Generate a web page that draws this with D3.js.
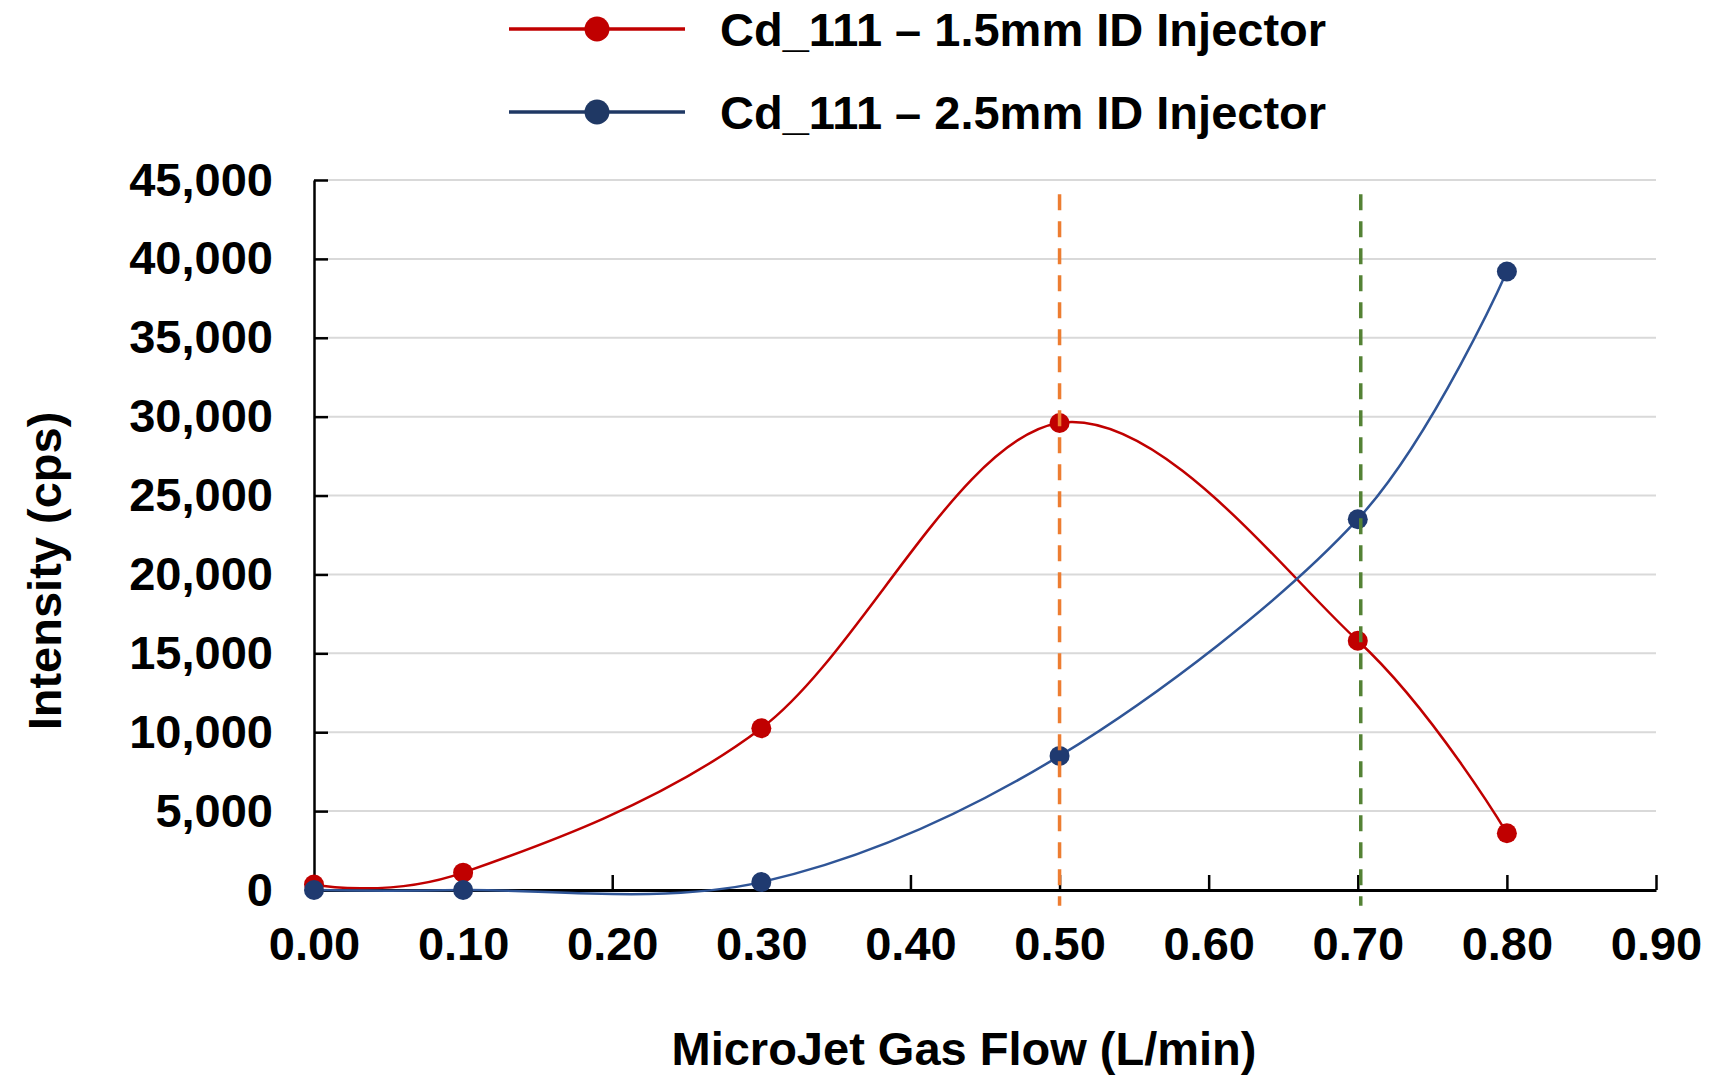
<!DOCTYPE html>
<html>
<head>
<meta charset="utf-8">
<script src="https://cdn.jsdelivr.net/npm/d3@7"></script>
<style>
  body { margin: 0; background: #fff; }
  text { font-family: "Liberation Sans", Arial, sans-serif; font-weight: bold; }
</style>
</head>
<body>
<div id="root"></div>
<script>
// data
const flows = [0.00, 0.10, 0.30, 0.50, 0.70, 0.80];
const cd15 = [350, 1100, 10250, 29600, 15800, 3600];
const cd25 = [0, 0, 500, 8500, 23500, 39200];
const seriesNames = ["Cd_111 \u2013 1.5mm ID Injector", "Cd_111 \u2013 2.5mm ID Injector"];
const xTicks = [0, 0.1, 0.2, 0.3, 0.4, 0.5, 0.6, 0.7, 0.8, 0.9];
const yTicks = [0, 5000, 10000, 15000, 20000, 25000, 30000, 35000, 40000, 45000];
const refFlows = [0.50, 0.702];
const refSpan = [-1000, 44100];
const xTitle = "MicroJet Gas Flow (L/min)";
const yTitle = "Intensity (cps)";

const w = 1711;
const h = 1076;
const margin = { top: 180, bottom: 186, left: 314, right: 55 };

const lineColors = ["#c00000", "#2f5597"];
const markerColors = ["#c00000", "#1f3a70"];
const legendLineColors = ["#c00000", "#1f3864"];
const refColors = ["#ed7d31", "#548235"];
const fontSize = 47;

const xScale = d3.scaleLinear()
    .domain([0, 0.9])
    .range([margin.left, w - margin.right]);

const yScale = d3.scaleLinear()
    .domain([0, 45000])
    .range([h - margin.bottom, margin.top]);

const svg = d3.select("#root")
    .append("svg")
    .attr("width", w)
    .attr("height", h)
    .style("background", "#fff");

// gridlines
svg.append("g")
    .selectAll("line")
    .data(yTicks.filter(d => d > 0))
    .enter()
    .append("line")
    .attr("x1", xScale(0))
    .attr("x2", xScale(0.9))
    .attr("y1", d => yScale(d))
    .attr("y2", d => yScale(d))
    .attr("stroke", "#d9d9d9")
    .attr("stroke-width", 2);

// y-axis, ticks pointing into the plot
const yAxis = d3.axisLeft(yScale)
    .tickValues(yTicks)
    .tickFormat(d3.format(","))
    .tickSizeInner(-14)
    .tickSizeOuter(0)
    .tickPadding(41);
const gy = svg.append("g")
    .attr("transform", "translate(" + margin.left + ",0)")
    .call(yAxis);
gy.select(".domain").attr("stroke", "#000").attr("stroke-width", 2.5);
gy.selectAll(".tick line").attr("stroke", "#000").attr("stroke-width", 2.5);
gy.selectAll(".tick text")
    .attr("fill", "#000")
    .style("font-size", fontSize + "px")
    .style("font-family", "'Liberation Sans', Arial, sans-serif")
    .style("font-weight", "bold");

// x-axis
const xAxis = d3.axisBottom(xScale)
    .tickValues(xTicks)
    .tickFormat(d3.format(".2f"))
    .tickSizeInner(-15)
    .tickSizeOuter(0)
    .tickPadding(37);
const gx = svg.append("g")
    .attr("transform", "translate(0," + yScale(0) + ")")
    .call(xAxis);
gx.select(".domain").attr("stroke", "#000").attr("stroke-width", 3);
gx.selectAll(".tick line").attr("stroke", "#000").attr("stroke-width", 2.5);
gx.selectAll(".tick text")
    .attr("fill", "#000")
    .style("font-size", fontSize + "px")
    .style("font-family", "'Liberation Sans', Arial, sans-serif")
    .style("font-weight", "bold");

// axis titles
svg.append("text")
    .attr("x", 964)
    .attr("y", 1065)
    .attr("text-anchor", "middle")
    .style("font-size", fontSize + "px")
    .text(xTitle);

svg.append("text")
    .attr("transform", "translate(61," + 571 + ") rotate(-90)")
    .attr("text-anchor", "middle")
    .style("font-size", fontSize + "px")
    .text(yTitle);

// series (Excel-like smoothed lines)
const series = [cd15, cd25];
const line = d3.line()
    .x((d, i) => xScale(flows[i]))
    .y(d => yScale(d))
    .curve(d3.curveCardinal.tension(0));

series.forEach((vals, s) => {
    svg.append("path")
        .datum(vals)
        .attr("d", line)
        .attr("fill", "none")
        .attr("stroke", lineColors[s])
        .attr("stroke-width", 2.5);
    svg.append("g")
        .selectAll("circle")
        .data(vals)
        .enter()
        .append("circle")
        .attr("cx", (d, i) => xScale(flows[i]))
        .attr("cy", d => yScale(d))
        .attr("r", 10)
        .attr("fill", markerColors[s]);
});

// dashed reference lines, drawn on top
svg.append("g")
    .selectAll("line")
    .data(refFlows)
    .enter()
    .append("line")
    .attr("x1", d => xScale(d))
    .attr("x2", d => xScale(d))
    .attr("y1", yScale(refSpan[1]))
    .attr("y2", yScale(refSpan[0]))
    .attr("stroke", (d, i) => refColors[i])
    .attr("stroke-width", 3.5)
    .attr("stroke-dasharray", "16,11");

// legend
const legend = svg.append("g").attr("id", "legend");
const legendY = [29, 112];
seriesNames.forEach((name, i) => {
    legend.append("line")
        .attr("x1", 509)
        .attr("x2", 685)
        .attr("y1", legendY[i])
        .attr("y2", legendY[i])
        .attr("stroke", legendLineColors[i])
        .attr("stroke-width", 3.5);
    legend.append("circle")
        .attr("cx", 597)
        .attr("cy", legendY[i])
        .attr("r", 12.5)
        .attr("fill", legendLineColors[i]);
    legend.append("text")
        .attr("x", 720)
        .attr("y", legendY[i] + 17)
        .style("font-size", fontSize + "px")
        .text(name);
});
</script>
</body>
</html>
